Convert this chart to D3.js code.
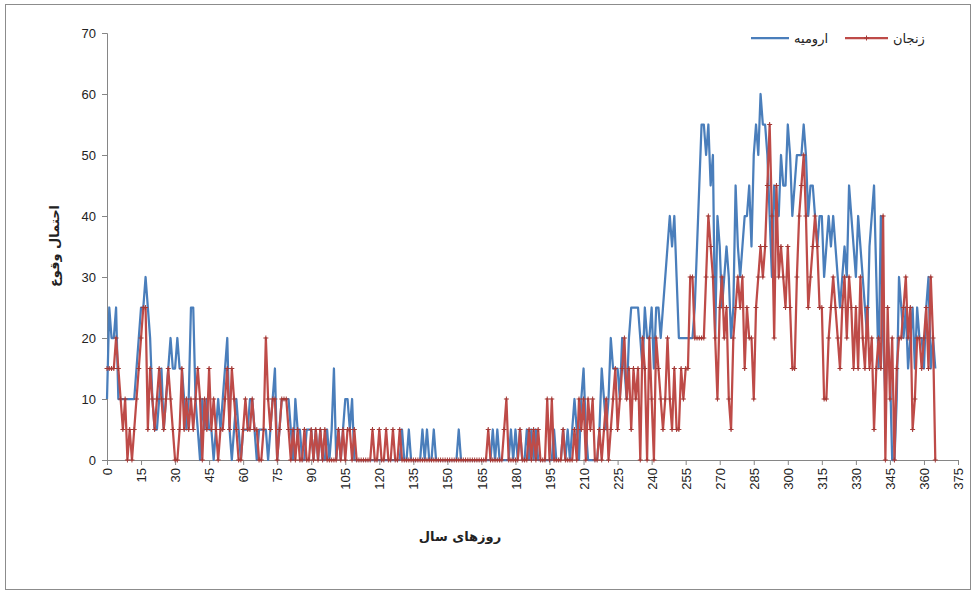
<!DOCTYPE html>
<html><head><meta charset="utf-8">
<script src="https://cdn.jsdelivr.net/npm/d3@7"></script>
<style>
html,body{margin:0;padding:0;background:#fff;}
svg{display:block;}
</style></head>
<body>
<svg id="chart" width="976" height="593"></svg>
<script>
// ---- data ----
const seriesNames = ["ارومیه", "زنجان"];
const xTicks = d3.range(0, 376, 15);
const yTicks = [0, 10, 20, 30, 40, 50, 60, 70];
const xTitle = "روزهای سال";
const yTitle = "احتمال وقوع";

const urmia = [
10,25,20,20,25,10,10,10,10,10,10,10,10,15,20,
25,25,30,25,20,10,5,5,10,15,5,10,15,20,15,
15,20,15,15,10,5,10,25,25,10,5,0,10,5,10,
5,5,0,5,10,5,10,15,20,5,0,5,10,5,0,
5,5,5,10,10,5,0,5,5,5,5,0,5,10,15,
0,5,10,10,10,10,5,0,10,5,5,0,0,5,5,
5,0,5,0,5,0,0,5,0,5,15,0,5,0,5,
10,10,5,10,0,0,0,0,0,0,0,0,0,0,0,
0,0,0,0,0,0,0,0,0,0,5,0,0,5,0,
0,0,0,0,5,0,5,0,0,5,0,0,0,0,0,
0,0,0,0,0,5,0,0,0,0,0,0,0,0,0,
0,0,0,0,0,5,0,5,0,0,0,0,0,5,0,
5,0,5,0,0,5,0,5,0,5,0,0,0,0,0,
0,0,5,0,0,0,5,0,5,0,5,10,5,0,10,
15,5,0,0,0,0,0,5,15,10,5,10,20,15,15,
15,10,20,15,10,20,25,25,25,25,20,15,25,20,20,
25,15,25,25,20,25,30,35,40,35,40,30,20,20,20,
20,20,20,20,25,35,45,55,55,50,55,45,50,20,40,
35,25,30,35,30,20,25,45,35,30,35,40,40,45,35,
50,55,50,60,55,55,50,40,30,45,40,40,50,45,45,
55,50,40,45,50,50,50,55,50,40,45,45,40,35,40,
40,30,35,40,35,40,35,30,25,30,35,30,45,40,35,
30,40,35,30,25,20,35,40,45,30,15,40,20,10,20,
15,0,0,10,30,25,20,25,15,20,25,15,25,20,20,
15,25,30,15,20,15
];

const zanjan = [
15,15,15,15,20,15,10,5,10,0,5,0,5,10,15,
20,25,25,5,15,10,5,10,15,10,5,10,15,10,5,
0,0,5,15,5,10,5,10,5,10,15,10,0,10,5,
15,5,10,5,0,5,5,10,15,5,15,10,5,0,0,
5,10,5,5,10,5,5,0,0,5,20,10,5,10,10,
0,5,10,10,10,5,0,5,0,5,0,0,5,0,0,
5,0,5,0,5,0,5,0,0,0,0,0,5,0,5,
0,5,5,0,5,0,0,0,0,0,0,0,5,0,0,
5,0,0,5,0,0,5,0,0,5,0,0,0,0,0,
0,0,0,0,0,0,0,0,0,0,0,0,0,0,0,
0,0,0,0,0,0,0,0,0,0,0,0,0,0,0,
0,0,0,5,0,0,0,0,0,0,5,10,0,0,0,
0,0,5,0,0,0,5,0,5,0,5,0,0,0,10,
0,10,0,0,0,0,5,0,0,0,0,5,0,10,5,
10,0,10,5,10,0,0,5,0,5,10,0,5,10,15,
5,10,15,20,10,15,5,15,10,15,0,20,15,0,20,
10,0,20,15,10,5,10,20,10,5,15,5,5,15,10,
15,15,30,30,20,20,20,20,20,30,40,35,30,20,10,
25,30,20,25,10,5,20,25,30,25,30,15,25,20,20,
10,25,30,35,30,35,45,55,40,20,45,30,35,30,25,
35,25,15,15,30,40,45,50,40,25,30,35,40,35,25,
25,10,10,20,25,30,25,20,15,25,30,20,30,25,15,
25,15,30,20,15,25,15,20,5,15,20,15,40,0,25,
10,20,0,15,20,20,25,30,20,25,5,10,20,20,15,
20,25,15,30,20,0
];

const colors = ["#4a7ebb", "#be4b48"];

// ---- chart ----
const svg = d3.select("#chart");
svg.append("rect").attr("x", 5.5).attr("y", 4.5).attr("width", 965).attr("height", 585)
  .attr("fill", "#fff").attr("stroke", "#8c8c8c").attr("stroke-width", 1);

const m = {left: 107, right: 958, top: 33, bottom: 460};
const x = d3.scaleLinear().domain([0, 375]).range([m.left, m.right]);
const y = d3.scaleLinear().domain([0, 70]).range([m.bottom, m.top]);

const font = "'Liberation Sans', Arial, sans-serif";

// Y axis
const yAxis = svg.append("g").attr("transform", `translate(${m.left},0)`)
  .call(d3.axisLeft(y).tickValues(yTicks).tickSize(5).tickPadding(6));
yAxis.selectAll("text").attr("font-family", font).attr("font-size", 13).attr("fill", "#222");
yAxis.selectAll("line,path").attr("stroke", "#868686");

// X axis
const xAxis = svg.append("g").attr("transform", `translate(0,${m.bottom})`)
  .call(d3.axisBottom(x).tickValues(xTicks).tickSize(5));
xAxis.selectAll("text")
  .attr("font-family", font).attr("font-size", 13).attr("fill", "#222")
  .attr("text-anchor", "end")
  .attr("transform", "rotate(-90)").attr("x", -8).attr("y", 0).attr("dx", 0).attr("dy", "0.35em");
xAxis.selectAll("line,path").attr("stroke", "#868686");

// lines
const line = d3.line().x((d, i) => x(i)).y(d => y(d));
svg.append("path").datum(urmia).attr("d", line).attr("fill", "none")
  .attr("stroke", colors[0]).attr("stroke-width", 2.25).attr("stroke-linejoin", "round");
svg.append("path").datum(zanjan).attr("d", line).attr("fill", "none")
  .attr("stroke", colors[1]).attr("stroke-width", 2.25).attr("stroke-linejoin", "round");
svg.append("g").selectAll("path").data(zanjan).join("path")
  .attr("transform", (d, i) => `translate(${x(i)},${y(d)})`)
  .attr("d", "M-2.5,0H2.5M0,-2.5V2.5")
  .attr("stroke", "#a33a37").attr("stroke-width", 1);

// axis titles
svg.append("text").attr("x", 460).attr("y", 541).attr("text-anchor", "middle")
  .attr("font-family", "'DejaVu Sans', sans-serif").attr("font-weight", "bold").attr("font-size", 13)
  .attr("fill", "#222").text(xTitle);
svg.append("text").attr("transform", "translate(59,246) rotate(-90)").attr("text-anchor", "middle")
  .attr("font-family", "'DejaVu Sans', sans-serif").attr("font-weight", "bold").attr("font-size", 13)
  .attr("fill", "#222").text(yTitle);

// legend
const leg = [{name: seriesNames[0], c: colors[0], x1: 751, x2: 789, tx: 794},
             {name: seriesNames[1], c: colors[1], x1: 845, x2: 888, tx: 893}];
const lg = svg.append("g");
leg.forEach((d, i) => {
  lg.append("line").attr("x1", d.x1).attr("x2", d.x2).attr("y1", 38).attr("y2", 38)
    .attr("stroke", d.c).attr("stroke-width", 2.25);
  if (i === 1) lg.append("path").attr("transform", `translate(${(d.x1 + d.x2) / 2},38)`)
    .attr("d", "M-2.5,0H2.5M0,-2.5V2.5").attr("stroke", "#a33a37");
  lg.append("text").attr("x", d.tx).attr("y", 42.5).attr("text-anchor", "start")
    .attr("font-family", "'DejaVu Sans', sans-serif").attr("font-size", 13).attr("fill", "#222")
    .text(d.name);
});
</script>
</body></html>
